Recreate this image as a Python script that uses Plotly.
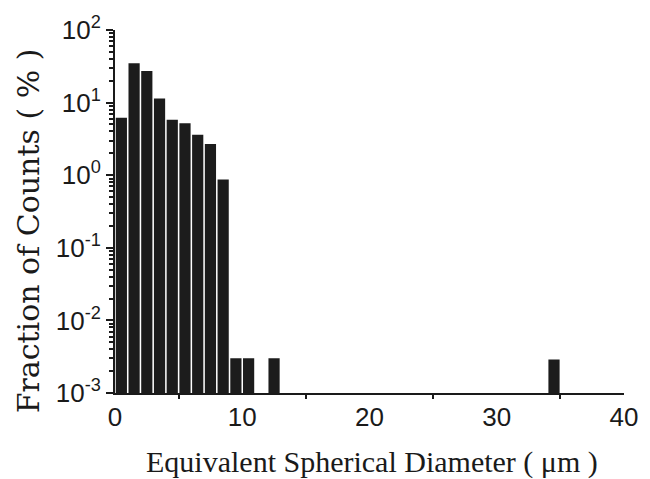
import plotly.graph_objects as go

# Histogram bins (left edge, um) and fraction of counts (%)
bin_left = [0, 1, 2, 3, 4, 5, 6, 7, 8, 9, 10, 12, 34]
fraction = [6.2, 34.9, 27.3, 11.4, 5.8, 5.2, 3.6, 2.7, 0.87, 0.003, 0.003, 0.003, 0.0029]

y_tickvals = [1e-3, 1e-2, 1e-1, 1e0, 1e1, 1e2]
y_ticktext = ["10<sup>-3</sup>", "10<sup>-2</sup>", "10<sup>-1</sup>",
              "10<sup>0</sup>", "10<sup>1</sup>", "10<sup>2</sup>"]
x_tickvals = [0, 10, 20, 30, 40]

bin_width = 1.0
centers = [b + bin_width / 2 for b in bin_left]

fig = go.Figure()
fig.add_trace(go.Bar(
  x=centers, y=fraction, width=0.88,
  marker=dict(color="#1c1c1c", line=dict(width=0)),
))

fig.update_layout(
  width=650, height=479,
  margin=dict(l=115, r=17, t=29, b=86),
  plot_bgcolor="white", paper_bgcolor="white",
  showlegend=False,
  font=dict(family="Liberation Sans, Arial", size=26, color="#1a1a1a"),
)

fig.update_xaxes(
  range=[0, 40], tickvals=x_tickvals, ticks="outside", ticklen=0,
  showline=True, linecolor="#1a1a1a", linewidth=2,
  showgrid=False, zeroline=False,
  minor=dict(tick0=5, dtick=10, ticks="outside", ticklen=4, tickwidth=2, tickcolor="#1a1a1a", showgrid=False),
)

fig.update_yaxes(
  type="log", range=[-3, 2],
  tickvals=y_tickvals, ticktext=y_ticktext,
  ticks="outside", ticklen=7, tickwidth=2, tickcolor="#1a1a1a",
  showline=True, linecolor="#1a1a1a", linewidth=2,
  showgrid=False, zeroline=False,
  minor=dict(dtick="D1", ticks="outside", ticklen=4, tickwidth=1.5, tickcolor="#1a1a1a", showgrid=False),
)

# Axis titles in serif faces, as in the original figure
fig.add_annotation(
  text="Equivalent Spherical Diameter ( \u03bcm )", xref="paper", yref="paper",
  x=0.505, y=-0.19, xanchor="center", yanchor="middle", showarrow=False,
  font=dict(family="Liberation Serif, Times New Roman", size=30, color="#1a1a1a"),
)
fig.add_annotation(
  text="Fraction of Counts ( % )", xref="paper", yref="paper",
  x=-0.171, y=0.448, xanchor="center", yanchor="middle", showarrow=False, textangle=-90,
  font=dict(family="DejaVu Serif", size=30, color="#1a1a1a"),
)

# drop the browser's default page margin so the figure sits at the window corner
fig.write_html("out.html", config={"displayModeBar": False},
               post_script="document.body.style.margin='0';")
